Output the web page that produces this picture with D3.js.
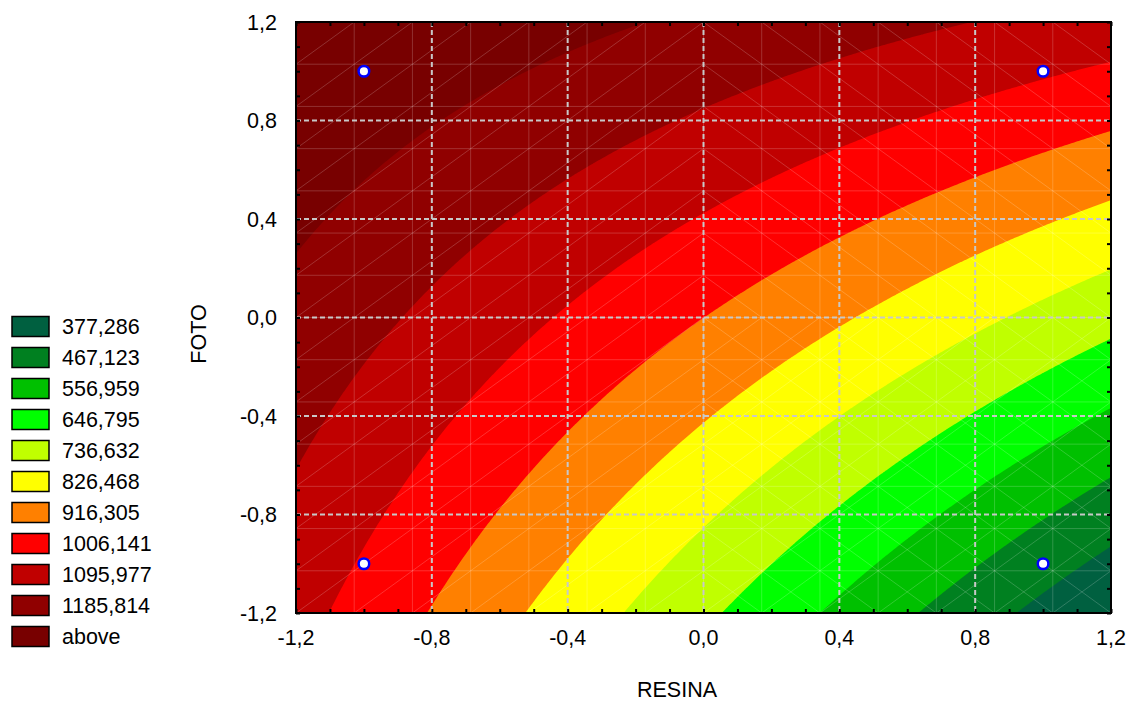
<!DOCTYPE html>
<html><head><meta charset="utf-8">
<script src="https://cdn.jsdelivr.net/npm/d3@7"></script>
<style>
html,body{margin:0;padding:0;background:#fff;}
text{font-family:"Liberation Sans",Arial,Helvetica,sans-serif;fill:#000;}
</style></head><body>
<svg id="chart" width="1139" height="704"></svg>
<script>
// Design points (coded levels) and the measured response at each one
const resina = [-1, 1, -1, 1];
const foto = [-1, -1, 1, 1];
const response = [998.2, 413.2, 1239.4, 1016.0];

// Contour levels listed in the legend
const levels = [377.286, 467.123, 556.959, 646.795, 736.632, 826.468, 916.305, 1006.141, 1095.977, 1185.814];
const levelLabels = ["377,286", "467,123", "556,959", "646,795", "736,632", "826,468", "916,305", "1006,141", "1095,977", "1185,814", "above"];

// Axis ticks
const tickValues = [-1.2, -0.8, -0.4, 0, 0.4, 0.8, 1.2];
const tickLabels = ["-1,2", "-0,8", "-0,4", "0,0", "0,4", "0,8", "1,2"];

// Band colours, lowest band first
const bandColors = ["#006040", "#008020", "#00c000", "#00ff00", "#c0ff00", "#ffff00", "#ff8000", "#ff0000", "#c00000", "#900000", "#780000"];

const svg = d3.select("#chart");
const L = 296, R = 1111, T = 22, B = 613;
const x = d3.scaleLinear().domain([-1.2, 1.2]).range([L, R]);
const y = d3.scaleLinear().domain([-1.2, 1.2]).range([B, T]);

// Bilinear model fitted to the 2x2 design: z = b0 + b1*x + b2*y + b12*x*y
const n = response.length;
const b0 = d3.sum(response) / n;
const b1 = d3.sum(response, (z, i) => z * resina[i]) / n;
const b2 = d3.sum(response, (z, i) => z * foto[i]) / n;
const b12 = d3.sum(response, (z, i) => z * resina[i] * foto[i]) / n;
const surface = (u, v) => b0 + b1 * u + b2 * v + b12 * u * v;

// Sample the surface on a fine grid and trace the filled contour bands
const N = 400;
const gx = d3.scaleLinear().domain([0, N]).range([-1.2, 1.2]);
const gy = d3.scaleLinear().domain([0, N]).range([1.2, -1.2]);
const values = new Float64Array(N * N);
for (let j = 0; j < N; j++)
  for (let i = 0; i < N; i++)
    values[j * N + i] = surface(gx(i + 0.5), gy(j + 0.5));
const bands = d3.contours().size([N, N]).thresholds(levels)(values);
const proj = d3.geoTransform({
  point(px, py) { this.stream.point(x(gx(px)), y(gy(py))); }
});
const path = d3.geoPath(proj);

svg.append("clipPath").attr("id", "plotClip")
  .append("rect").attr("x", L).attr("y", T).attr("width", R - L).attr("height", B - T);

const plot = svg.append("g").attr("clip-path", "url(#plotClip)");
plot.append("rect").attr("x", L).attr("y", T).attr("width", R - L).attr("height", B - T)
  .attr("fill", bandColors[0]);
plot.selectAll("path.band").data(bands).join("path")
  .attr("class", "band")
  .attr("d", path)
  .attr("fill", (d, k) => bandColors[k + 1]);

// Faint triangulation mesh over the surface
const cells = 14;
const step = 2.4 / cells;
const mesh = plot.append("g").attr("stroke", "#ffffff").attr("stroke-opacity", 0.24)
  .attr("stroke-width", 0.8).attr("fill", "none");
for (let k = 1; k < cells; k++) {
  const v = -1.2 + k * step;
  mesh.append("line").attr("x1", x(v)).attr("x2", x(v)).attr("y1", T).attr("y2", B);
  mesh.append("line").attr("x1", L).attr("x2", R).attr("y1", y(v)).attr("y2", y(v));
}
for (let i = 0; i < cells; i++) {
  for (let j = 0; j < cells; j++) {
    const x0 = -1.2 + i * step, x1 = x0 + step;
    const y0 = -1.2 + j * step, y1 = y0 + step;
    const cx = (x0 + x1) / 2, cy = (y0 + y1) / 2;
    if (cx < 0 || cy < 0) {
      mesh.append("line").attr("x1", x(x0)).attr("y1", y(y0)).attr("x2", x(x1)).attr("y2", y(y1));
    }
    if (cx > 0) {
      mesh.append("line").attr("x1", x(x0)).attr("y1", y(y1)).attr("x2", x(x1)).attr("y2", y(y0));
    }
  }
}

// Dashed grid at the labelled ticks
const grid = svg.append("g").attr("stroke", "#c8c8c8").attr("stroke-width", 2)
  .attr("stroke-dasharray", "5,3");
tickValues.slice(1, -1).forEach(v => {
  grid.append("line").attr("x1", x(v)).attr("x2", x(v)).attr("y1", T).attr("y2", B);
  grid.append("line").attr("x1", L).attr("x2", R).attr("y1", y(v)).attr("y2", y(v));
});

// Frame and inward ticks on all four sides
const minor = d3.range(-12, 13).map(k => k / 10);
svg.append("g").attr("transform", `translate(0,${B})`)
  .call(d3.axisBottom(x).tickValues(minor).tickSizeInner(-4).tickSizeOuter(0).tickFormat(""))
  .call(g => g.select(".domain").remove());
svg.append("g").attr("transform", `translate(0,${T})`)
  .call(d3.axisTop(x).tickValues(minor).tickSizeInner(-4).tickSizeOuter(0).tickFormat(""))
  .call(g => g.select(".domain").remove());
svg.append("g").attr("transform", `translate(${L},0)`)
  .call(d3.axisLeft(y).tickValues(minor).tickSizeInner(-4).tickSizeOuter(0).tickFormat(""))
  .call(g => g.select(".domain").remove());
svg.append("g").attr("transform", `translate(${R},0)`)
  .call(d3.axisRight(y).tickValues(minor).tickSizeInner(-4).tickSizeOuter(0).tickFormat(""))
  .call(g => g.select(".domain").remove());
svg.selectAll(".tick line").attr("stroke", "#000").attr("stroke-width", 2);

svg.append("rect").attr("x", L).attr("y", T).attr("width", R - L).attr("height", B - T)
  .attr("fill", "none").attr("stroke", "#000").attr("stroke-width", 2);

// Tick labels
const fs = 21.5;
svg.append("g").selectAll("text").data(tickValues).join("text")
  .attr("x", d => x(d)).attr("y", B + 32)
  .attr("text-anchor", "middle").attr("font-size", fs)
  .text((d, i) => tickLabels[i]);
svg.append("g").selectAll("text").data(tickValues).join("text")
  .attr("x", L - 19).attr("y", d => y(d) + 7.5)
  .attr("text-anchor", "end").attr("font-size", fs)
  .text((d, i) => tickLabels[i]);

// Axis titles
svg.append("text").attr("x", 677).attr("y", 697).attr("text-anchor", "middle")
  .attr("font-size", fs).text("RESINA");
svg.append("text").attr("transform", "translate(206,334) rotate(-90)")
  .attr("text-anchor", "middle").attr("font-size", fs).text("FOTO");

// Design points
svg.append("g").selectAll("circle").data(response).join("circle")
  .attr("cx", (d, i) => x(resina[i])).attr("cy", (d, i) => y(foto[i]))
  .attr("r", 5.3).attr("fill", "#fff").attr("stroke", "#0000ff").attr("stroke-width", 2.5);

// Legend
const lg = svg.append("g").attr("transform", "translate(12,326.5)");
const rows = lg.selectAll("g").data(levelLabels).join("g")
  .attr("transform", (d, k) => `translate(0,${k * 31})`);
rows.append("rect").attr("x", 0).attr("y", -10).attr("width", 37).attr("height", 20)
  .attr("fill", (d, k) => bandColors[k]).attr("stroke", "#000").attr("stroke-width", 1.5);
rows.append("text").attr("x", 50).attr("y", 7.5).attr("font-size", fs).text(d => d);
</script>
</body></html>
